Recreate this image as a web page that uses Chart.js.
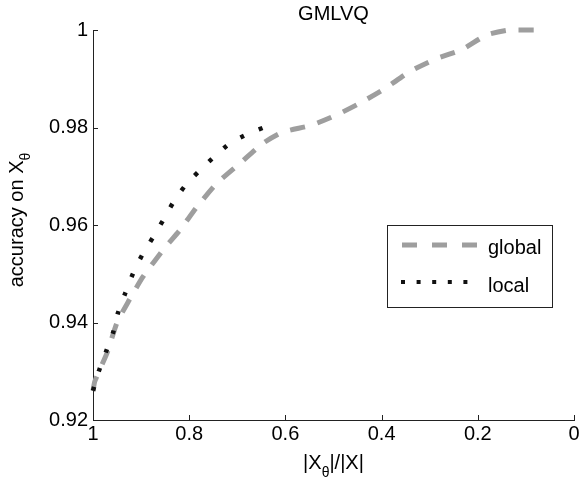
<!DOCTYPE html>
<html>
<head>
<meta charset="utf-8">
<script src="https://cdn.jsdelivr.net/npm/chart.js@4.4.0/dist/chart.umd.min.js"></script>
<style>
  body { margin: 0; background: #fff; }
</style>
</head>
<body>
<canvas id="chart" width="580" height="479"></canvas>
<script>
// values
const globalX = [1.0, 0.996, 0.971, 0.950, 0.927, 0.896, 0.854, 0.819, 0.784, 0.742, 0.694, 0.646, 0.607, 0.545, 0.493, 0.445, 0.393, 0.341, 0.289, 0.233, 0.181, 0.133, 0.075];
const globalY = [0.926, 0.928, 0.9337, 0.940, 0.9442, 0.9494, 0.9549, 0.959, 0.9637, 0.9686, 0.9727, 0.9768, 0.979, 0.9805, 0.9826, 0.985, 0.988, 0.9915, 0.994, 0.996, 0.999, 1.0, 1.0];

const localX = [1.0, 0.988, 0.973, 0.958, 0.948, 0.933, 0.917, 0.898, 0.875, 0.854, 0.834, 0.809, 0.780, 0.748, 0.715, 0.678, 0.632];
const localY = [0.926, 0.930, 0.934, 0.938, 0.942, 0.946, 0.950, 0.9538, 0.9575, 0.961, 0.9645, 0.968, 0.971, 0.974, 0.9768, 0.9787, 0.9805];

const xTicks = [0, 0.2, 0.4, 0.6, 0.8, 1];
const yTicks = [0.92, 0.94, 0.96, 0.98, 1];

const FONT = "'Liberation Sans', Arial, sans-serif";
const GREY = "#9e9e9e";
const INK = "#222";

const toPoints = (xs, ys) => xs.map((x, i) => ({ x: x, y: ys[i] }));
const fmt = v => String(+v.toFixed(2));

// inward ticks, title, axis titles with subscripts, legend box
const decorations = {
    id: "decorations",
    afterDraw(chart) {
        const { ctx, chartArea: a, scales: { x, y } } = chart;
        ctx.save();

        // ticks pointing into the plot
        ctx.strokeStyle = INK;
        ctx.lineWidth = 1;
        ctx.beginPath();
        xTicks.forEach(v => {
            const px = Math.round(x.getPixelForValue(v)) + 0.5;
            ctx.moveTo(px, a.bottom);
            ctx.lineTo(px, a.bottom - 5);
        });
        yTicks.forEach(v => {
            const py = Math.round(y.getPixelForValue(v)) + 0.5;
            ctx.moveTo(a.left, py);
            ctx.lineTo(a.left + 5, py);
        });
        ctx.stroke();

        ctx.fillStyle = "#000";
        ctx.textBaseline = "alphabetic";

        // title
        ctx.font = "20px " + FONT;
        ctx.textAlign = "center";
        ctx.fillText("GMLVQ", (a.left + a.right) / 2, 20);

        // x axis title: |X_θ|/|X|
        ctx.textAlign = "left";
        const big = "20px " + FONT, small = "14px " + FONT;
        ctx.font = big;
        const w1 = ctx.measureText("|X").width;
        const w3 = ctx.measureText("|/|X|").width;
        ctx.font = small;
        const w2 = ctx.measureText("θ").width;
        let sx = (a.left + a.right) / 2 - (w1 + w2 + w3) / 2;
        ctx.font = big;
        ctx.fillText("|X", sx, 469);
        ctx.font = small;
        ctx.fillText("θ", sx + w1, 477);
        ctx.font = big;
        ctx.fillText("|/|X|", sx + w1 + w2, 469);

        // y axis title: accuracy on X_θ
        ctx.save();
        ctx.translate(23, (a.top + a.bottom) / 2 - 5);
        ctx.rotate(-Math.PI / 2);
        ctx.font = big;
        const t1 = ctx.measureText("accuracy on X").width;
        ctx.font = small;
        const t2 = ctx.measureText("θ").width;
        ctx.font = big;
        ctx.fillText("accuracy on X", -(t1 + t2) / 2, 0);
        ctx.font = small;
        ctx.fillText("θ", -(t1 + t2) / 2 + t1, 7);
        ctx.restore();

        // legend box
        const lx = 387, ly = 225, lw = 165, lh = 82;
        ctx.fillStyle = "#fff";
        ctx.fillRect(lx, ly, lw, lh);
        ctx.strokeStyle = INK;
        ctx.lineWidth = 1;
        ctx.strokeRect(lx + 0.5, ly + 0.5, lw, lh);

        ctx.lineCap = "butt";
        ctx.strokeStyle = GREY;
        ctx.lineWidth = 5;
        ctx.setLineDash([15, 15]);
        ctx.beginPath();
        ctx.moveTo(402, 245);
        ctx.lineTo(478, 245);
        ctx.stroke();

        ctx.strokeStyle = "#111";
        ctx.lineWidth = 4;
        ctx.setLineDash([4, 11.6]);
        ctx.beginPath();
        ctx.moveTo(401, 282);
        ctx.lineTo(470, 282);
        ctx.stroke();
        ctx.setLineDash([]);

        ctx.fillStyle = "#000";
        ctx.font = "20px " + FONT;
        ctx.textAlign = "left";
        ctx.fillText("global", 488, 254);
        ctx.fillText("local", 488, 292);

        ctx.restore();
    }
};

const ctx = document.getElementById("chart");
const chart = new Chart(ctx, {
    type: "line",
    data: {
        datasets: [{
            label: "local",
            data: toPoints(localX, localY),
            borderColor: "#111",
            borderWidth: 4.5,
            borderDash: [4, 16],
            borderCapStyle: "butt",
            pointRadius: 0,
            tension: 0.2,
            fill: false,
            clip: 8,
            order: 0
        }, {
            label: "global",
            data: toPoints(globalX, globalY),
            borderColor: GREY,
            borderWidth: 5,
            borderDash: [15, 13],
            borderCapStyle: "butt",
            pointRadius: 0,
            tension: 0.2,
            fill: false,
            clip: 8,
            order: 1
        }]
    },
    options: {
        responsive: false,
        animation: false,
        devicePixelRatio: 1,
        layout: { padding: { top: 30, right: 6, left: 0, bottom: 0 } },
        plugins: {
            legend: { display: false },
            title: { display: false },
            tooltip: { enabled: false }
        },
        scales: {
            x: {
                type: "linear",
                reverse: true,
                min: 0,
                max: 1,
                afterBuildTicks: s => { s.ticks = xTicks.map(v => ({ value: v })); },
                afterFit: s => { s.height = 59; },
                grid: { display: false, drawTicks: false },
                border: { display: true, color: INK, width: 1 },
                ticks: {
                    padding: 2,
                    maxRotation: 0,
                    color: "#000",
                    font: { family: FONT, size: 20 },
                    callback: v => fmt(v)
                }
            },
            y: {
                type: "linear",
                min: 0.92,
                max: 1,
                afterBuildTicks: s => { s.ticks = yTicks.map(v => ({ value: v })); },
                afterFit: s => { s.width = 93; },
                grid: { display: false, drawTicks: false },
                border: { display: true, color: INK, width: 1 },
                ticks: {
                    padding: 5,
                    color: "#000",
                    font: { family: FONT, size: 20 },
                    callback: v => fmt(v)
                }
            }
        }
    },
    plugins: [decorations]
});
</script>
</body>
</html>
